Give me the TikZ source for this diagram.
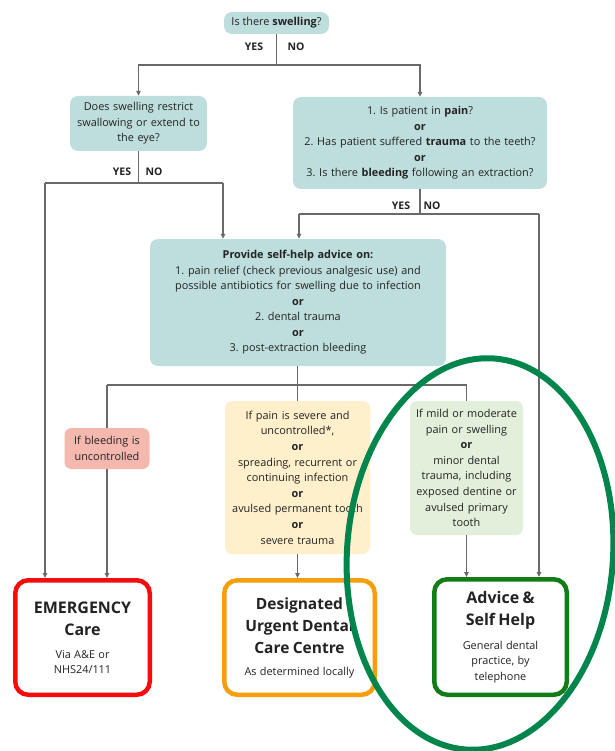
\documentclass[tikz,border=0pt]{standalone}
\usepackage{fontspec}
\setmainfont{Open Sans}
\usepackage{xcolor}
\usetikzlibrary{positioning,arrows.meta,shapes}
\frenchspacing

\definecolor{tealfill}{RGB}{190,222,221}
\definecolor{pinkfill}{RGB}{245,184,174}
\definecolor{creamfill}{RGB}{255,240,203}
\definecolor{mintfill}{RGB}{226,239,218}
\definecolor{linegrey}{RGB}{105,105,105}
\definecolor{inkgrey}{RGB}{35,35,35}
\definecolor{emerred}{RGB}{245,12,12}
\definecolor{udcorange}{RGB}{246,158,12}
\definecolor{selfgreen}{RGB}{18,125,22}
\definecolor{ringgreen}{RGB}{0,133,76}

\begin{document}
\begin{tikzpicture}[x=1pt,y=-1pt,
        question/.style={rectangle,rounded corners=8pt,fill=tealfill,text=inkgrey,
          inner sep=0pt,align=center,font=\fontsize{10.9}{15.5}\selectfont},
        option/.style={rectangle,rounded corners=7pt,text=inkgrey,
          inner sep=0pt,align=center,font=\fontsize{10.9}{15.6}\selectfont},
        outcome/.style={rectangle,rounded corners=13pt,draw,line width=4.5pt,fill=white,
          text=inkgrey,inner sep=0pt,align=center},
        answer/.style={text=inkgrey,inner sep=0pt,font=\fontsize{10.5}{12}\selectfont\bfseries},
        link/.style={draw=linegrey,line width=1.2pt},
        arrow/.style={link,-{Triangle[length=5pt,width=4.5pt]}},
        ring/.style={draw=ringgreen,line width=6pt}]
      \useasboundingbox (0,0) rectangle (614,751);

      \node (swell) at (276.5,23) [question,minimum width=105pt,minimum height=22pt]
        {Is there \textbf{swelling}?};
      \node (restrict) at (138.5,123.5) [question,minimum width=137pt,minimum height=55pt,text width=137pt]
        {Does swelling restrict\\swallowing or extend to\\the eye?};
      \node (pain) at (420,143) [question,minimum width=254pt,minimum height=92pt,text width=254pt]
        {1. Is patient in \textbf{pain}?\\\textbf{or}\\2. Has patient suffered \textbf{trauma} to the teeth?\\\textbf{or}\\3. Is there \textbf{bleeding} following an extraction?};
      \node (selfadv) at (298,302.5) [question,minimum width=296pt,minimum height=127pt,text width=296pt]
        {\textbf{Provide self-help advice on:}\\1. pain relief (check previous analgesic use) and\\possible antibiotics for swelling due to infection\\\textbf{or}\\2. dental trauma\\\textbf{or}\\3. post-extraction bleeding};

      \node (bleed) at (107,448.5) [option,fill=pinkfill,minimum width=85pt,minimum height=41pt,text width=85pt]
        {If bleeding is\\uncontrolled};
      \node (severe) at (297.5,477.5) [option,fill=creamfill,minimum width=145pt,minimum height=153pt,text width=145pt]
        {If pain is severe and\\uncontrolled*,\\\textbf{or}\\spreading, recurrent or\\continuing infection\\\textbf{or}\\avulsed permanent tooth\\\textbf{or}\\severe trauma};
      \node (mild) at (466.5,468) [option,fill=mintfill,minimum width=113pt,minimum height=134pt,text width=113pt]
        {If mild or moderate\\pain or swelling\\\textbf{or}\\minor dental\\trauma, including\\exposed dentine or\\avulsed primary\\tooth};

      \node (emer) at (82.5,637.5) [outcome,draw=emerred,minimum width=134.5pt,minimum height=114.5pt,text width=130pt]
        {{\fontsize{16}{22}\selectfont\bfseries EMERGENCY\\Care\par}\vspace{8pt}
         {\fontsize{10.9}{15}\selectfont Via A\&E or\\NHS24/111\par}};
      \node (udc) at (299.5,637.5) [outcome,draw=udcorange,minimum width=150.5pt,minimum height=114.5pt,text width=148pt]
        {{\fontsize{15.5}{22}\selectfont\bfseries Designated\\Urgent Dental\\Care Centre\par}\vspace{7pt}
         {\fontsize{10.9}{15}\selectfont As determined locally\par}};
      \node (selfhelp) at (500.5,637) [outcome,draw=selfgreen,minimum width=132.5pt,minimum height=115.5pt,text width=130pt]
        {{\fontsize{16}{22}\selectfont\bfseries Advice \&\\Self Help\par}\vspace{8pt}
         {\fontsize{10.9}{15.5}\selectfont General dental\\practice, by\\telephone\par}};

      \node (yes0) at (254,47) [answer] {YES};
      \node (no0) at (296,47) [answer] {NO};
      \node (yes1) at (122,172) [answer] {YES};
      \node (no1) at (154,172) [answer] {NO};
      \node (yes2) at (401,206) [answer] {YES};
      \node (no2) at (432,206) [answer] {NO};

      \coordinate (j0) at (276.5,65);
      \coordinate (j1) at (138.5,183);
      \coordinate (j1l) at (45,183);
      \coordinate (j1r) at (223,183);
      \coordinate (j2) at (420,214);
      \coordinate (j2l) at (299,214);
      \coordinate (j2r) at (539,214);
      \coordinate (j3) at (297.5,385);
      \coordinate (j3l) at (107,385);
      \coordinate (j3r) at (466.5,385);

      \draw[link] (swell.south) -- (j0);
      \draw[arrow] (j0) -| (restrict.north);
      \draw[arrow] (j0) -| (pain.north);

      \draw[link] (restrict.south) -- (j1);
      \draw[link] (j1l) -- (j1r);
      \draw[arrow] (j1l) -- (j1l |- emer.north);
      \draw[arrow] (j1r) -- (j1r |- selfadv.north);

      \draw[link] (pain.south) -- (j2);
      \draw[link] (j2l) -- (j2r);
      \draw[arrow] (j2l) -- (j2l |- selfadv.north);
      \draw[arrow] (j2r) -- (j2r |- selfhelp.north);

      \draw[link] (selfadv.south -| j3) -- (j3);
      \draw[link] (j3l) -- (j3r);
      \draw[link] (j3l) -- (bleed.north);
      \draw[link] (j3) -- (severe.north);
      \draw[link] (j3r) -- (mild.north);

      \draw[arrow] (bleed.south) -- (bleed.south |- emer.north);
      \draw[arrow] (severe.south) -- (severe.south |- udc.north);
      \draw[arrow] (mild.south) -- (mild.south |- selfhelp.north);

      \draw[ring,rotate around={-4:(480,554)}] (480,554) ellipse [x radius=133,y radius=196];
    \end{tikzpicture}
\end{document}
